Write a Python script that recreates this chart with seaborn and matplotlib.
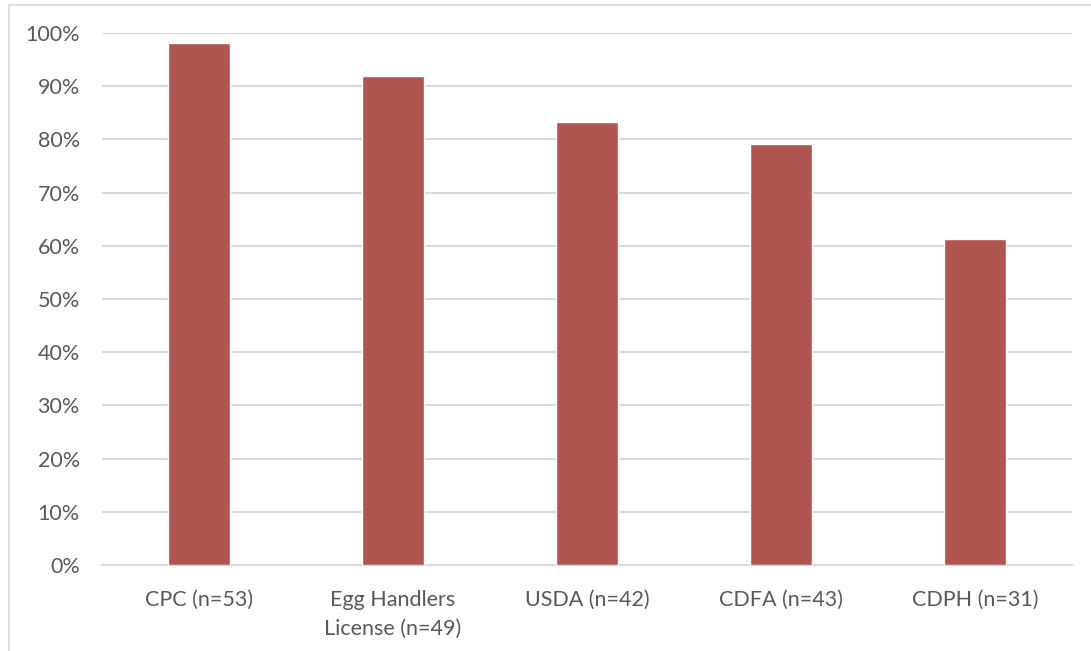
import matplotlib
matplotlib.use("Agg")
import matplotlib.pyplot as plt
import seaborn as sns
import pandas as pd
from matplotlib.patches import Rectangle
from matplotlib.ticker import PercentFormatter

categories = ["CPC (n=53)", "Egg Handlers\nLicense (n=49)", "USDA (n=42)", "CDFA (n=43)", "CDPH (n=31)"]
shares = [52 / 53, 45 / 49, 35 / 42, 34 / 43, 19 / 31]
yticks = [0, 0.1, 0.2, 0.3, 0.4, 0.5, 0.6, 0.7, 0.8, 0.9, 1.0]

sns.set_theme(style="white")
plt.rcParams["font.family"] = ["Lato", "DejaVu Sans"]

W, H = 1091, 651
fig = plt.figure(figsize=(W / 100, H / 100), dpi=100)
ax = fig.add_axes([102 / W, 1 - 565 / H, 970 / W, (565 - 33) / H])

df = pd.DataFrame({"cat": categories, "share": shares})
sns.barplot(data=df, x="cat", y="share", color="#B05651", saturation=1,
            width=0.315, ax=ax, zorder=3)

ax.set_ylim(0, 1.0)
ax.set_yticks(yticks)
ax.yaxis.set_major_formatter(PercentFormatter(1.0, decimals=0))
ax.set_xlim(-0.5, len(categories) - 0.5)
ax.grid(axis="y", color="#D9D9D9", linewidth=1.5, zorder=0)
ax.set_axisbelow(True)
for s in ["top", "right", "left"]:
    ax.spines[s].set_visible(False)
ax.spines["bottom"].set_color("#D9D9D9")
ax.spines["bottom"].set_linewidth(1.5)
ax.set_xlabel("")
ax.set_ylabel("")
ax.tick_params(axis="both", length=0, labelsize=15.5, labelcolor="#595959")
ax.tick_params(axis="y", pad=16)
ax.tick_params(axis="x", pad=18)
for lbl in ax.get_xticklabels():
    lbl.set_linespacing(1.55)

# outer chart frame
fig.patches.append(Rectangle((9 / W, -0.05), 1.1, 1 - 5 / H + 0.05,
                             transform=fig.transFigure, fill=False,
                             edgecolor="#D9D9D9", linewidth=1.2))

fig.savefig("out.png", dpi=100, facecolor="white")
